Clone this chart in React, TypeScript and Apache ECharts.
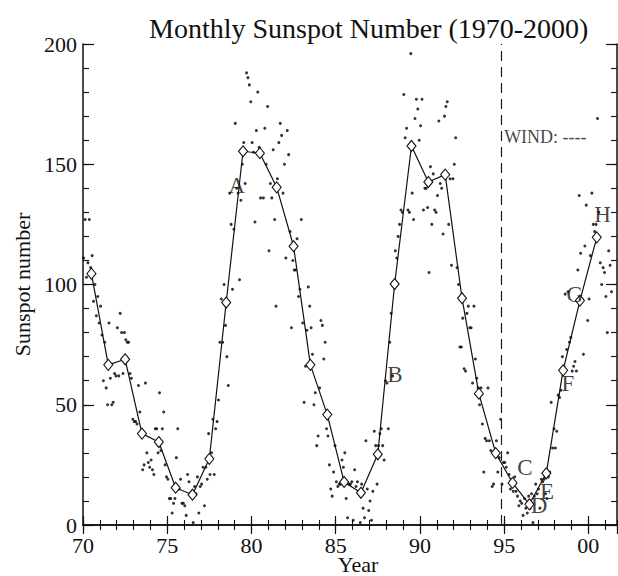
import React, { useEffect, useRef } from "react";
import * as echarts from "echarts";

// ---------- data ----------
const titleText = "Monthly Sunspot Number (1970-2000)";
const xAxisTitle = "Year";
const yAxisTitle = "Sunspot number";
const xTickLabels = ["70", "75", "80", "85", "90", "95", "00"];
const xTickValues = [70, 75, 80, 85, 90, 95, 100];

// yearly mean sunspot numbers (diamonds), plotted at mid-year
const annualYears = [1970, 1971, 1972, 1973, 1974, 1975, 1976, 1977, 1978, 1979, 1980, 1981, 1982, 1983, 1984, 1985, 1986, 1987, 1988, 1989, 1990, 1991, 1992, 1993, 1994, 1995, 1996, 1997, 1998, 1999, 2000];
const annualMeans = [104.5, 66.6, 68.9, 38.0, 34.5, 15.5, 12.6, 27.5, 92.5, 155.4, 154.6, 140.4, 115.9, 66.6, 45.9, 17.9, 13.4, 29.4, 100.2, 157.6, 142.6, 145.7, 94.3, 54.6, 29.9, 17.5, 8.6, 21.5, 64.3, 93.3, 119.6];

// monthly sunspot numbers (dots), January 1970 onwards
const monthlyStartYear = 1970;
const monthlyValues = [
  // 1970
  111, 127, 103, 109, 127, 107, 112, 93, 100, 87, 95, 84,
  // 1971
  91, 79, 60, 76, 57, 50, 84, 61, 50, 51, 63, 62,
  // 1972
  82, 62, 88, 80, 63, 80, 77, 76, 76, 63, 61, 44,
  // 1973
  43, 43, 42, 58, 47, 37, 23, 25, 59, 30, 26, 24,
  // 1974
  27, 23, 21, 40, 40, 30, 55, 31, 40, 47, 25, 20,
  // 1975
  19, 11, 11, 5, 9, 11, 28, 40, 15, 19, 9, 9,
  // 1976
  8, 4, 21, 18, 13, 12, 1, 16, 13, 20, 5, 16,
  // 1977
  17, 24, 8, 24, 19, 38, 21, 30, 44, 21, 40, 43,
  // 1978
  52, 76, 94, 76, 100, 83, 70, 58, 138, 125, 98, 123,
  // 1979
  167, 140, 138, 102, 135, 150, 159, 142, 188, 186, 183, 176,
  // 1980
  159, 155, 126, 164, 180, 157, 136, 155, 136, 165, 150, 174,
  // 1981
  114, 142, 136, 156, 127, 91, 144, 159, 167, 162, 138, 150,
  // 1982
  111, 164, 154, 122, 82, 110, 106, 106, 119, 95, 98, 127,
  // 1983
  84, 51, 66, 81, 99, 91, 82, 71, 50, 55, 33, 37,
  // 1984
  57, 85, 83, 69, 76, 40, 37, 25, 15, 12, 22, 33,
  // 1985
  18, 16, 17, 17, 27, 24, 30, 11, 3, 17, 17, 18,
  // 1986
  2, 23, 16, 18, 14, 1, 17, 7, 3, 35, 15, 6,
  // 1987
  10, 2, 14, 39, 33, 17, 33, 38, 40, 33, 27, 60,
  // 1988
  59, 40, 76, 88, 62, 100, 114, 111, 120, 125, 131, 130,
  // 1989
  179, 161, 165, 131, 130, 196, 138, 127, 169, 177, 173, 160,
  // 1990
  166, 177, 131, 140, 140, 132, 105, 149, 125, 146, 131, 130,
  // 1991
  137, 168, 142, 140, 121, 170, 174, 176, 125, 144, 108, 144,
  // 1992
  150, 161, 107, 100, 74, 74, 86, 65, 64, 88, 91, 82,
  // 1993
  82, 59, 91, 69, 61, 57, 50, 57, 42, 22, 36, 35,
  // 1994
  57, 35, 31, 16, 17, 30, 35, 22, 28, 44, 17, 26,
  // 1995
  26, 24, 30, 21, 15, 18, 14, 20, 14, 12, 8, 10,
  // 1996
  9, 4, 11, 7, 5, 12, 7, 13, 1, 12, 17, 13,
  // 1997
  15, 7, 19, 18, 19, 13, 11, 20, 22, 51, 32, 40,
  // 1998
  32, 39, 54, 53, 56, 70, 66, 96, 73, 97, 76, 78,
  // 1999
  64, 66, 68, 64, 106, 137, 113, 94, 71, 116, 133, 85,
  // 2000
  94, 112, 138, 125, 122, 125, 169, 130, 109, 100, 107, 105,
  // 2001 (Jan-May)
  95, 80, 114, 108, 97,
];

// WIND launch (vertical dashed line), in two-digit years
const windLaunchYear = 94.83;
const windLegendText = "WIND: ----";
const windLegendAt = [95.0, 161.5];

// event letters [label, year, sunspot number]
const eventLabels = ["A", "B", "C", "D", "E", "F", "G", "H"];
const eventYears = [79.13, 88.51, 96.24, 97.07, 97.55, 98.78, 99.19, 100.85];
const eventValues = [141, 62.4, 24.1, 8.3, 14.1, 59, 96, 128.9];

// ---------- styling ----------
const FONT = "'Liberation Serif', 'Times New Roman', Times, serif";
const INK = "#111111";
const X_MIN = 70;
const X_MAX = 101.7;
const Y_MIN = 0;
const Y_MAX = 200;

export default function App() {
  const ref = useRef<HTMLDivElement>(null);

  useEffect(() => {
    if (!ref.current) return;
    const chart = echarts.init(ref.current, undefined, { renderer: "svg" });

    const toAxisYear = (y: number) => y - 1900;
    const monthly = monthlyValues.map((v, i) => [
      toAxisYear(monthlyStartYear) + (i + 0.5) / 12,
      v,
    ]);
    const annual = annualYears.map((y, i) => [toAxisYear(y) + 0.5, annualMeans[i]]);
    const events = eventLabels.map((l, i) => ({ name: l, value: [eventYears[i], eventValues[i]] }));

    const gridRect = {
      left: 83,
      top: 44,
      width: 534,
      height: 481,
      containLabel: false,
      outerBoundsMode: "none",
    };
    const xLabelFmt = (v: number) => {
      const idx = xTickValues.findIndex((t) => Math.abs(t - v) < 1e-6);
      return idx >= 0 ? xTickLabels[idx] : "";
    };
    const axisLineStyle = { show: true, lineStyle: { color: INK, width: 1.5 } };
    const textBase = { fontFamily: FONT, color: INK };

    const majorX = (pos: "bottom" | "top", withLabels: boolean) => ({
      type: "value",
      gridIndex: 0,
      position: pos,
      min: X_MIN,
      max: X_MAX,
      interval: 5,
      axisLine: axisLineStyle,
      axisTick: { show: true, inside: true, length: 9, lineStyle: { color: INK, width: 1.2 } },
      axisLabel: withLabels
        ? { show: true, formatter: xLabelFmt, fontSize: 22, margin: 9, ...textBase, showMaxLabel: false }
        : { show: false },
      splitLine: { show: false },
    });
    const minorX = (pos: "bottom" | "top") => ({
      type: "value",
      gridIndex: 1,
      position: pos,
      min: X_MIN,
      max: X_MAX,
      interval: 1,
      axisLine: { show: false },
      axisTick: { show: true, inside: true, length: 5, lineStyle: { color: INK, width: 1.1 } },
      axisLabel: { show: false },
      splitLine: { show: false },
    });
    const majorY = (pos: "left" | "right", withLabels: boolean) => ({
      type: "value",
      gridIndex: 0,
      position: pos,
      min: Y_MIN,
      max: Y_MAX,
      interval: 50,
      axisLine: axisLineStyle,
      axisTick: { show: true, inside: true, length: 11, lineStyle: { color: INK, width: 1.2 } },
      axisLabel: withLabels ? { show: true, fontSize: 22, margin: 6, ...textBase } : { show: false },
      splitLine: { show: false },
      ...(withLabels
        ? {
            name: yAxisTitle,
            nameLocation: "middle",
            nameGap: 50,
            nameRotate: 90,
            nameTextStyle: { fontSize: 22, ...textBase },
          }
        : {}),
    });
    const minorY = (pos: "left" | "right") => ({
      type: "value",
      gridIndex: 1,
      position: pos,
      min: Y_MIN,
      max: Y_MAX,
      interval: 10,
      axisLine: { show: false },
      axisTick: { show: true, inside: true, length: 6, lineStyle: { color: INK, width: 1.1 } },
      axisLabel: { show: false },
      splitLine: { show: false },
    });

    chart.setOption({
      animation: false,
      backgroundColor: "#ffffff",
      title: {
        text: titleText,
        left: 144,
        top: 9,
        textStyle: { fontSize: 28, fontWeight: "normal", ...textBase },
      },
      graphic: [
        {
          type: "text",
          x: 358,
          y: 564,
          silent: true,
          style: {
            text: xAxisTitle,
            fontSize: 22,
            fontFamily: FONT,
            fill: INK,
            textAlign: "center",
            textVerticalAlign: "middle",
          },
        },
      ],
      grid: [gridRect, gridRect],
      xAxis: [majorX("bottom", true), majorX("top", false), minorX("bottom"), minorX("top")],
      yAxis: [majorY("left", true), majorY("right", false), minorY("left"), minorY("right")],
      series: [
        {
          type: "scatter",
          name: "monthly",
          xAxisIndex: 0,
          yAxisIndex: 0,
          data: monthly,
          symbol: "circle",
          symbolSize: 3,
          itemStyle: { color: "#000000" },
          silent: true,
          markLine: {
            silent: true,
            symbol: "none",
            label: { show: false },
            lineStyle: { type: [10, 6], color: "#222", width: 1.2 },
            data: [{ xAxis: windLaunchYear }],
          },
        },
        {
          type: "line",
          name: "annual",
          xAxisIndex: 0,
          yAxisIndex: 0,
          data: annual,
          symbol: "diamond",
          symbolSize: [9, 11],
          showAllSymbol: true,
          itemStyle: { color: "#ffffff", borderColor: INK, borderWidth: 1.1 },
          lineStyle: { color: INK, width: 1.2 },
          silent: true,
          z: 3,
        },
        {
          type: "scatter",
          name: "events",
          xAxisIndex: 0,
          yAxisIndex: 0,
          data: events,
          symbolSize: 0,
          silent: true,
          z: 4,
          label: {
            show: true,
            position: "inside",
            formatter: (p: any) => p.name,
            fontSize: 23,
            ...textBase,
          },
        },
        {
          type: "scatter",
          name: "wind",
          xAxisIndex: 0,
          yAxisIndex: 0,
          data: [{ name: windLegendText, value: windLegendAt }],
          symbolSize: 0,
          silent: true,
          z: 4,
          label: {
            show: true,
            position: "right",
            distance: 0,
            formatter: (p: any) => p.name,
            fontSize: 18,
            ...textBase,
          },
        },
      ],
    });

    return () => chart.dispose();
  }, []);

  return (
    <div
      ref={ref}
      style={{ position: "fixed", left: 0, top: 0, width: 618, height: 576, background: "#fff" }}
    />
  );
}
